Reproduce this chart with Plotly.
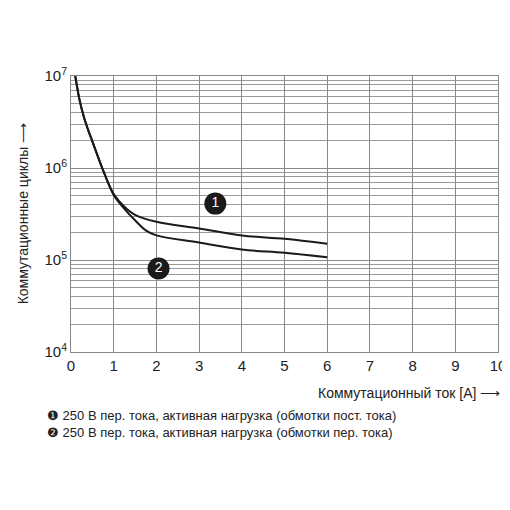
import numpy as np
import plotly.graph_objects as go

# curve data
x1 = [0.1, 0.2, 0.3, 0.4, 0.5, 0.75, 1.0, 1.25, 1.5, 2.0, 3.0, 4.0, 5.0, 6.0]
y1 = [1e7, 5.5e6, 3.6e6, 2.6e6, 1.95e6, 9.5e5, 5.2e5, 3.8e5, 3.1e5, 2.6e5, 2.2e5, 1.85e5, 1.7e5, 1.5e5]
x2 = [0.1, 0.2, 0.3, 0.4, 0.5, 0.75, 1.0, 1.25, 1.5, 1.75, 2.0, 3.0, 4.0, 5.0, 6.0]
y2 = [1e7, 5.5e6, 3.6e6, 2.6e6, 1.95e6, 9.5e5, 5.1e5, 3.6e5, 2.7e5, 2.1e5, 1.85e5, 1.55e5, 1.3e5, 1.2e5, 1.07e5]

marker_x = [3.38, 2.05]
marker_y = [4.1e5, 8.1e4]
marker_lbl = ["1", "2"]

ytick_vals = [1e4, 1e5, 1e6, 1e7]
ytick_text = ["10<sup>4</sup>", "10<sup>5</sup>", "10<sup>6</sup>", "10<sup>7</sup>"]

legend_lines = [
    "❶ 250 В пер. тока, активная нагрузка (обмотки пост. тока)",
    "❷ 250 В пер. тока, активная нагрузка (обмотки пер. тока)",
]

fig = go.Figure()
fig.add_trace(go.Scatter(x=x1, y=y1, mode="lines", line=dict(color="#1a1a1a", width=2, shape="spline")))
fig.add_trace(go.Scatter(x=x2, y=y2, mode="lines", line=dict(color="#1a1a1a", width=2, shape="spline")))
fig.add_trace(go.Scatter(
    x=marker_x, y=marker_y, mode="markers+text", text=marker_lbl,
    marker=dict(size=22, color="#1a1a1a"),
    textfont=dict(color="white", size=14, family="Liberation Sans"),
    textposition="middle center",
))

fig.update_layout(
    width=510, height=510,
    margin=dict(l=63, r=18, t=68, b=166),
    paper_bgcolor="white", plot_bgcolor="white",
    showlegend=False,
    font=dict(family="Liberation Sans", color="#222", size=13),
    xaxis=dict(range=[0, 10], dtick=1, showgrid=True, gridcolor="#888", gridwidth=1,
               zeroline=False, showline=True, linecolor="#888", mirror=True,
               tickfont=dict(size=15, color="#222"), ticks=""),
    yaxis=dict(type="log", range=[4, 7], tickvals=ytick_vals, ticktext=ytick_text,
               showgrid=True, gridcolor="#888", zeroline=False, showline=True,
               linecolor="#888", mirror=True, tickfont=dict(size=15, color="#222"),
               minor=dict(dtick="D1", showgrid=True, gridcolor="#999", gridwidth=1, ticks="")),
)

fig.add_annotation(text="Коммутационные циклы ⟶", xref="paper", yref="paper",
                   x=-0.135, y=0.5, textangle=-90, showarrow=False, font=dict(size=14))
fig.add_annotation(text="Коммутационный ток [A] ⟶", xref="paper", yref="paper",
                   x=1.01, y=-0.185, xanchor="right", showarrow=False, font=dict(size=14))
for i, t in enumerate(legend_lines):
    fig.add_annotation(text=t, xref="paper", yref="paper",
                       x=-0.06, y=-0.265 - i * 0.062, xanchor="left", showarrow=False,
                       font=dict(size=13))

fig.write_html("out.html")
